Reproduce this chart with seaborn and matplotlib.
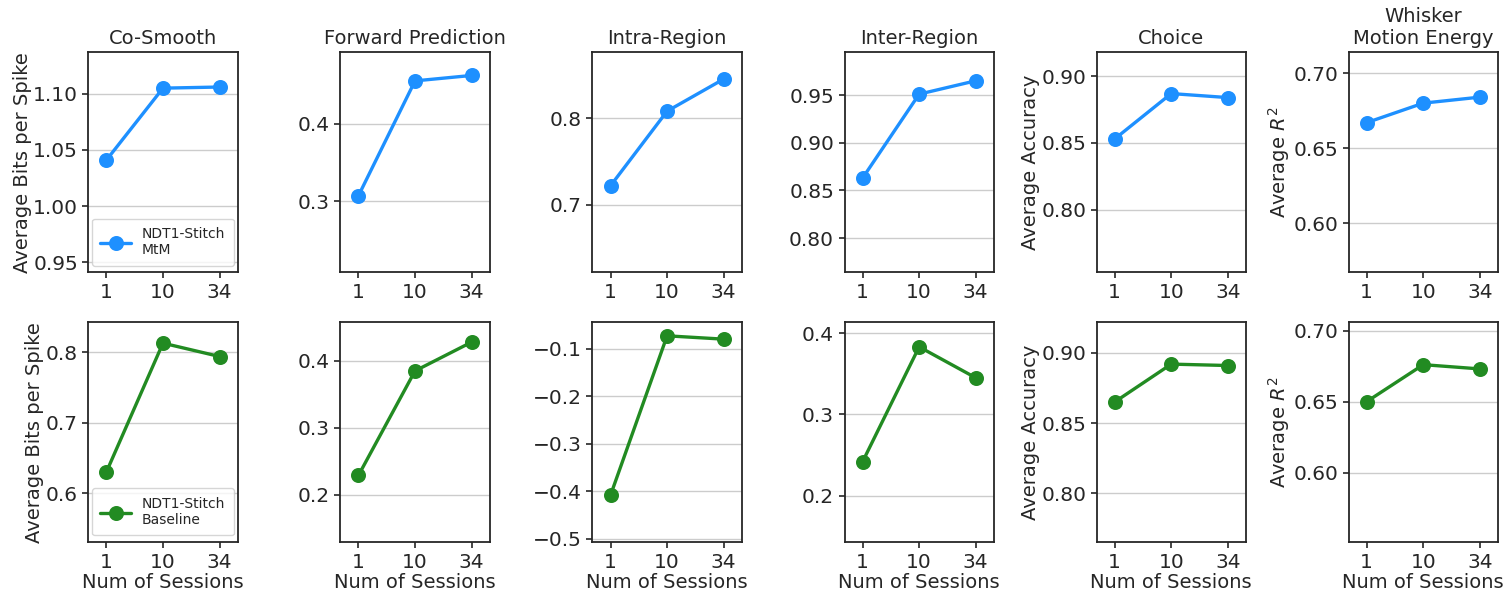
import matplotlib
matplotlib.use("Agg")
import matplotlib.pyplot as plt
import seaborn as sns

# ---------------- data ----------------
sessions = ["1", "10", "34"]
titles = ["Co-Smooth", "Forward Prediction", "Intra-Region", "Inter-Region",
          "Choice", "Whisker\nMotion Energy"]
ylabels = ["Average Bits per Spike", "", "", "", "Average Accuracy", "Average $R^2$"]

# top row: NDT1-Stitch MtM
mtm_cosmooth = [1.041, 1.105, 1.106]
mtm_forward = [0.307, 0.455, 0.462]
mtm_intra = [0.722, 0.808, 0.845]
mtm_inter = [0.863, 0.951, 0.965]
mtm_choice = [0.853, 0.887, 0.884]
mtm_whisker = [0.667, 0.680, 0.684]

# bottom row: NDT1-Stitch Baseline
base_cosmooth = [0.630, 0.813, 0.794]
base_forward = [0.229, 0.385, 0.428]
base_intra = [-0.408, -0.073, -0.080]
base_inter = [0.242, 0.383, 0.345]
base_choice = [0.865, 0.892, 0.891]
base_whisker = [0.650, 0.676, 0.673]

top_rows = [mtm_cosmooth, mtm_forward, mtm_intra, mtm_inter, mtm_choice, mtm_whisker]
bottom_rows = [base_cosmooth, base_forward, base_intra, base_inter, base_choice, base_whisker]

top_ylims = [(0.941, 1.137), (0.208, 0.492), (0.622, 0.876),
             (0.764, 0.995), (0.753, 0.918), (0.567, 0.714)]
bottom_ylims = [(0.530, 0.843), (0.129, 0.458), (-0.507, -0.044),
                (0.143, 0.4135), (0.765, 0.922), (0.551, 0.706)]

# ---------------- style ----------------
sns.set_style("ticks")
plt.rcParams["font.family"] = ["DejaVu Sans"]
plt.rcParams["axes.linewidth"] = 1.3

fig, axes = plt.subplots(2, 6, figsize=(15.07, 5.93), dpi=100)
fig.subplots_adjust(left=0.0586, right=0.994, top=0.912, bottom=0.0855,
                    wspace=0.688, hspace=0.225)

rows = [(top_rows, top_ylims, "dodgerblue", "NDT1-Stitch\nMtM"),
        (bottom_rows, bottom_ylims, "forestgreen", "NDT1-Stitch\nBaseline")]

for r, (vals, lims, color, lab) in enumerate(rows):
    for c in range(6):
        ax = axes[r, c]
        sns.pointplot(x=sessions, y=vals[c], color=color, ax=ax,
                      markersize=9, linewidth=2.4, label=lab)
        ax.set_xlim(-0.32, 2.32)
        ax.set_ylim(*lims[c])
        ax.yaxis.grid(True, color="0.8", linewidth=1.0)
        ax.xaxis.grid(False)
        ax.set_axisbelow(True)
        ax.tick_params(labelsize=14.5, width=1.2, length=4.5, pad=3)
        ax.set_ylabel(ylabels[c], fontsize=14, labelpad=1)
        if r == 0:
            ax.set_title(titles[c], fontsize=14, pad=6)
            ax.set_xlabel("")
        else:
            ax.set_xlabel("Num of Sessions", fontsize=14, labelpad=1)
        for s in ax.spines.values():
            s.set_color("0.15")
        if c == 0:
            ax.legend(loc="lower center", fontsize=10, handlelength=2.2,
                      borderpad=0.6, framealpha=0.8)
        else:
            leg = ax.get_legend()
            if leg is not None:
                leg.remove()

fig.savefig("out.png", dpi=100)
